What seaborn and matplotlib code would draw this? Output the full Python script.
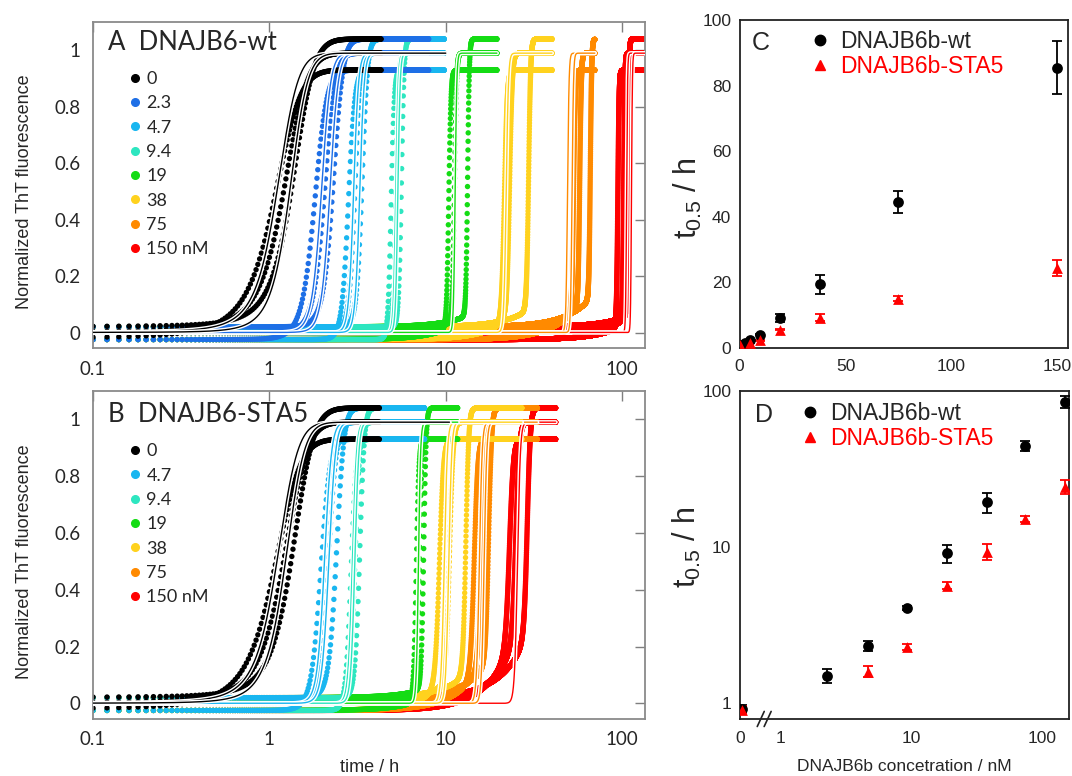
import numpy as np
import pandas as pd
import matplotlib
matplotlib.use("Agg")
import matplotlib.pyplot as plt
import matplotlib.patheffects as pe
from matplotlib.lines import Line2D
import seaborn as sns

# ---------------- data ----------------
# Panel A: DNAJB6-wt kinetic traces
A_labels = ['0', '2.3', '4.7', '9.4', '19', '38', '75', '150 nM']
A_colors = ['#000000', '#1e6fe6', '#19b6f0', '#2de6c0', '#14dc14', '#ffd21e', '#ff8a00', '#ff0000']
A_t50 = [[1.05, 1.2, 1.35], [1.8, 2.05, 2.3], [2.8, 3.05, 3.35], [4.9, 5.2, 5.6],
         [10.4, 11.2, 13.3], [21.5, 23.0, 29.5], [53.0, 57.5, 66.0], [94.5, 102.0, 108.0]]
A_tau = [0.2, 0.15, 0.12, 0.1, 0.15, 0.4, 0.6, 0.8]
A_drift = [0.0, 0.0, 0.0, 0.0, 0.04, 0.06, 0.1, 0.04]
A_end = [4.3, 8.0, 9.8, 9.8, 19.5, 40.0, 70.0, 140.0]
A_fit_t50 = [[1.1, 1.3], [1.97, 2.2], [3.0, 3.25], [5.2, 5.35], [11.3], [22.0], [49.0, 52.0], [106.0, 113.0]]
A_fit_end = [10.0, 8.0, 9.8, 9.8, 19.5, 40.0, 70.0, 140.0]

# Panel B: DNAJB6-STA5 kinetic traces
B_labels = ['0', '4.7', '9.4', '19', '38', '75', '150 nM']
B_colors = ['#000000', '#19b6f0', '#2de6c0', '#14dc14', '#ffd21e', '#ff8a00', '#ff0000']
B_t50 = [[1.05, 1.2, 1.35], [1.95, 2.15, 2.4], [2.9, 3.05, 3.25], [6.8, 7.1, 7.5],
         [9.2, 10.5, 13.0], [14.5, 15.9, 17.5], [23.0, 25.0, 29.0]]
B_tau = [0.2, 0.12, 0.1, 0.12, 0.25, 0.35, 0.6]
B_drift = [0.0, 0.0, 0.0, 0.03, 0.08, 0.12, 0.22]
B_end = [4.2, 7.6, 7.6, 11.7, 27.0, 33.0, 42.0]
B_fit_t50 = [[1.1, 1.23], [2.05, 2.17], [2.95, 3.05], [7.0], [9.8, 10.4], [15.5, 16.5], [25.5]]
B_fit_end = [10.5, 7.6, 7.6, 11.7, 27.0, 33.0, 42.0]

rep_plateau = [0.93, 0.99, 1.04]
rep_base = [-0.025, 0.0, 0.02]
sample_dt = 0.02  # h, measurement interval

# Panels C/D: t0.5 vs concentration
conc_wt = np.array([0, 2.3, 4.7, 9.4, 19, 38, 75, 150])
t05_wt = np.array([0.92, 1.5, 2.33, 4.05, 9.1, 19.4, 44.5, 85.5])
err_wt = np.array([0.05, 0.16, 0.18, 0.12, 1.2, 2.8, 3.3, 8.0])
conc_sta5 = np.array([0, 4.7, 9.4, 19, 38, 75, 150])
t05_sta5 = np.array([0.9, 1.59, 2.3, 5.65, 9.3, 15.1, 24.4])
err_sta5 = np.array([0.05, 0.13, 0.1, 0.3, 1.1, 0.7, 2.4])
zero_pos_log = 0.51  # where conc = 0 is drawn on the broken log axis

# ---------------- style ----------------
sns.set_theme(style="white")
plt.rcParams['font.family'] = ['Liberation Sans', 'DejaVu Sans']
plt.rcParams['mathtext.fontset'] = 'custom'
plt.rcParams['mathtext.rm'] = 'Liberation Sans'
plt.rcParams['mathtext.it'] = 'Liberation Sans'

fig = plt.figure(figsize=(10.72, 7.76), dpi=100)
axA = fig.add_axes([0.0868, 0.5515, 0.515, 0.420])
axB = fig.add_axes([0.0868, 0.0735, 0.515, 0.4227])
axC = fig.add_axes([0.690, 0.5515, 0.306, 0.4227])
axD = fig.add_axes([0.690, 0.0735, 0.307, 0.4227])


def kinetic_frame(labels, t50s, taus, drifts, ends):
    rows = []
    n_max = int(max(ends) / sample_dt) + 1
    grid = np.arange(1, n_max) * sample_dt + 0.08
    for i in reversed(range(len(labels))):
        for r, t50 in enumerate(t50s[i]):
            t = grid[grid <= ends[i]]
            s = 1.0 / (1.0 + np.exp(-(t - t50) / taus[i]))
            base = rep_base[r] + drifts[i] * np.clip(t / t50, 0, 1) ** 3
            y = base + (rep_plateau[r] - base) * s
            rows.append(pd.DataFrame({'t': t, 'y': y, 'conc': labels[i]}))
    return pd.concat(rows, ignore_index=True)


def fit_frame(labels, fit_t50s, taus, ends):
    rows = []
    for i in reversed(range(len(labels))):
        for r, t50 in enumerate(fit_t50s[i]):
            t = np.geomspace(0.1, ends[i], 4000)
            y = 0.99 / (1.0 + np.exp(-(t - t50) / (taus[i] * 0.8)))
            rows.append(pd.DataFrame({'t': t, 'y': y, 'conc': labels[i], 'unit': f'{i}-{r}'}))
    return pd.concat(rows, ignore_index=True)


def kinetic_panel(ax, labels, colors, t50s, taus, drifts, ends, fit_t50s, fit_ends, title, title_y, legend_top):
    pal = dict(zip(labels, colors))
    df = kinetic_frame(labels, t50s, taus, drifts, ends)
    sns.scatterplot(data=df, x='t', y='y', hue='conc', palette=pal, s=15, linewidth=0,
                    legend=False, ax=ax, rasterized=True, zorder=2)
    fdf = fit_frame(labels, fit_t50s, taus, fit_ends)
    for lab in labels[::-1]:
        sub = fdf[fdf['conc'] == lab]
        sns.lineplot(data=sub, x='t', y='y', units='unit', estimator=None, sort=False,
                     color=pal[lab], lw=1.0, ax=ax, legend=False, zorder=4,
                     path_effects=[pe.Stroke(linewidth=3.0, foreground='white'), pe.Normal()])
    ax.set_xscale('log')
    ax.set_xlim(0.1, 135)
    ax.set_ylim(-0.055, 1.10)
    ax.set_xticks([0.1, 1, 10, 100])
    ax.set_xticklabels(['0.1', '1', '10', '100'])
    ax.xaxis.set_minor_locator(matplotlib.ticker.NullLocator())
    yt = [0, 0.2, 0.4, 0.6, 0.8, 1.0]
    ax.set_yticks(yt)
    ax.set_yticklabels(['0', '0.2', '0.4', '0.6', '0.8', '1'])
    ax.tick_params(direction='in', top=True, right=True, length=7, width=1.0,
                   color='#7f7f7f', labelsize=13.5, pad=9)
    for lab in ax.get_xticklabels() + ax.get_yticklabels():
        lab.set_fontfamily('Lato')
    for sp in ax.spines.values():
        sp.set_color('#8a8a8a')
        sp.set_linewidth(1.3)
    ax.set_xlabel('')
    ax.set_ylabel('Normalized ThT fluorescence', fontsize=13)
    ax.yaxis.set_label_coords(-0.108, 0.48)
    ax.text(0.027, title_y, title, transform=ax.transAxes, fontsize=18.5, family='Lato',
            ha='left', va='center')
    handles = [Line2D([], [], marker='o', ls='none', color=c, markersize=5.5) for c in colors]
    ax.legend(handles, labels, loc='upper left', bbox_to_anchor=(0.067, legend_top),
              frameon=False, handlelength=0.6, handletextpad=0.3,
              labelspacing=0.46, borderpad=0, borderaxespad=0,
              prop={'family': 'Lato', 'size': 13})


kinetic_panel(axA, A_labels, A_colors, A_t50, A_tau, A_drift, A_end, A_fit_t50, A_fit_end,
              'A  DNAJB6-wt', 0.936, 0.85)
kinetic_panel(axB, B_labels, B_colors, B_t50, B_tau, B_drift, B_end, B_fit_t50, B_fit_end,
              'B  DNAJB6-STA5', 0.927, 0.84)
axB.set_xlabel('time / h', fontsize=13)
axB.xaxis.set_label_coords(0.50, -0.122)

# ---------------- panels C and D ----------------
def t05_panel(ax, xwt, xsta):
    ax.errorbar(xwt, t05_wt, yerr=err_wt, fmt='none', ecolor='black', elinewidth=1.3,
                capsize=3.5, capthick=1.3, zorder=3)
    ax.errorbar(xsta, t05_sta5, yerr=err_sta5, fmt='none', ecolor='red', elinewidth=1.3,
                capsize=3.5, capthick=1.3, zorder=3)
    sns.scatterplot(x=xwt, y=t05_wt, marker='o', color='black', s=60, linewidth=0, ax=ax, zorder=4)
    sns.scatterplot(x=xsta, y=t05_sta5, marker='^', color='red', s=60, linewidth=0, ax=ax, zorder=5)
    for sp in ax.spines.values():
        sp.set_color('#222222')
        sp.set_linewidth(1.3)
    ax.tick_params(direction='in', length=5, width=1.0, color='#222222', labelsize=12.5, pad=6,
                   top=False, right=False)
    ax.set_ylabel(r'$\mathregular{t_{0.5}}$ / h', fontsize=22)
    ax.set_xlabel('')


t05_panel(axC, conc_wt, conc_sta5)
axC.set_xlim(0, 155)
axC.set_ylim(0, 100)
axC.set_xticks([0, 50, 100, 150])
axC.set_yticks([0, 20, 40, 60, 80, 100])
axC.tick_params(axis='x', pad=8)
axC.yaxis.set_label_coords(-0.11, 0.457)
axC.text(0.037, 0.93, 'C', transform=axC.transAxes, fontsize=18, ha='left', va='center')
hC = [Line2D([], [], marker='o', ls='none', color='black', markersize=7.5),
      Line2D([], [], marker='^', ls='none', color='red', markersize=7.5)]
legC = axC.legend(hC, ['DNAJB6b-wt', 'DNAJB6b-STA5'], loc='upper left',
                  bbox_to_anchor=(0.216, 0.97), frameon=False, fontsize=16.5,
                  handlelength=0.8, handletextpad=0.5, labelspacing=0.1, borderpad=0,
                  borderaxespad=0)
legC.get_texts()[1].set_color('red')

xwt_log = np.where(conc_wt == 0, zero_pos_log, conc_wt)
xsta_log = np.where(conc_sta5 == 0, zero_pos_log, conc_sta5)
t05_panel(axD, xwt_log, xsta_log)
axD.set_xscale('log')
axD.set_yscale('log')
axD.set_xlim(0.49, 161)
axD.set_ylim(0.79, 100)
axD.set_xticks([0.495, 1, 10, 100])
axD.set_xticklabels(['0', '1', '10', '100'])
axD.set_yticks([1, 10, 100])
axD.set_yticklabels(['1', '10', '100'])
axD.xaxis.set_minor_locator(matplotlib.ticker.NullLocator())
axD.yaxis.set_minor_locator(matplotlib.ticker.NullLocator())
axD.tick_params(axis='x', pad=9)
axD.yaxis.set_label_coords(-0.11, 0.524)
axD.set_xlabel('DNAJB6b concetration / nM', fontsize=12.5)
axD.xaxis.set_label_coords(0.5, -0.122)
axD.text(0.046, 0.927, 'D', transform=axD.transAxes, fontsize=18, ha='left', va='center')
legD = axD.legend(hC, ['DNAJB6b-wt', 'DNAJB6b-STA5'], loc='upper left',
                  bbox_to_anchor=(0.185, 0.967), frameon=False, fontsize=16.5,
                  handlelength=0.8, handletextpad=0.5, labelspacing=0.1, borderpad=0,
                  borderaxespad=0)
legD.get_texts()[1].set_color('red')
# axis-break marks
for cx in (0.064, 0.085):
    axD.plot([cx - 0.0106, cx + 0.0106], [-0.023, 0.023], transform=axD.transAxes,
             color='#222222', lw=1.2, clip_on=False, zorder=6)

fig.savefig('out.png', dpi=100)
